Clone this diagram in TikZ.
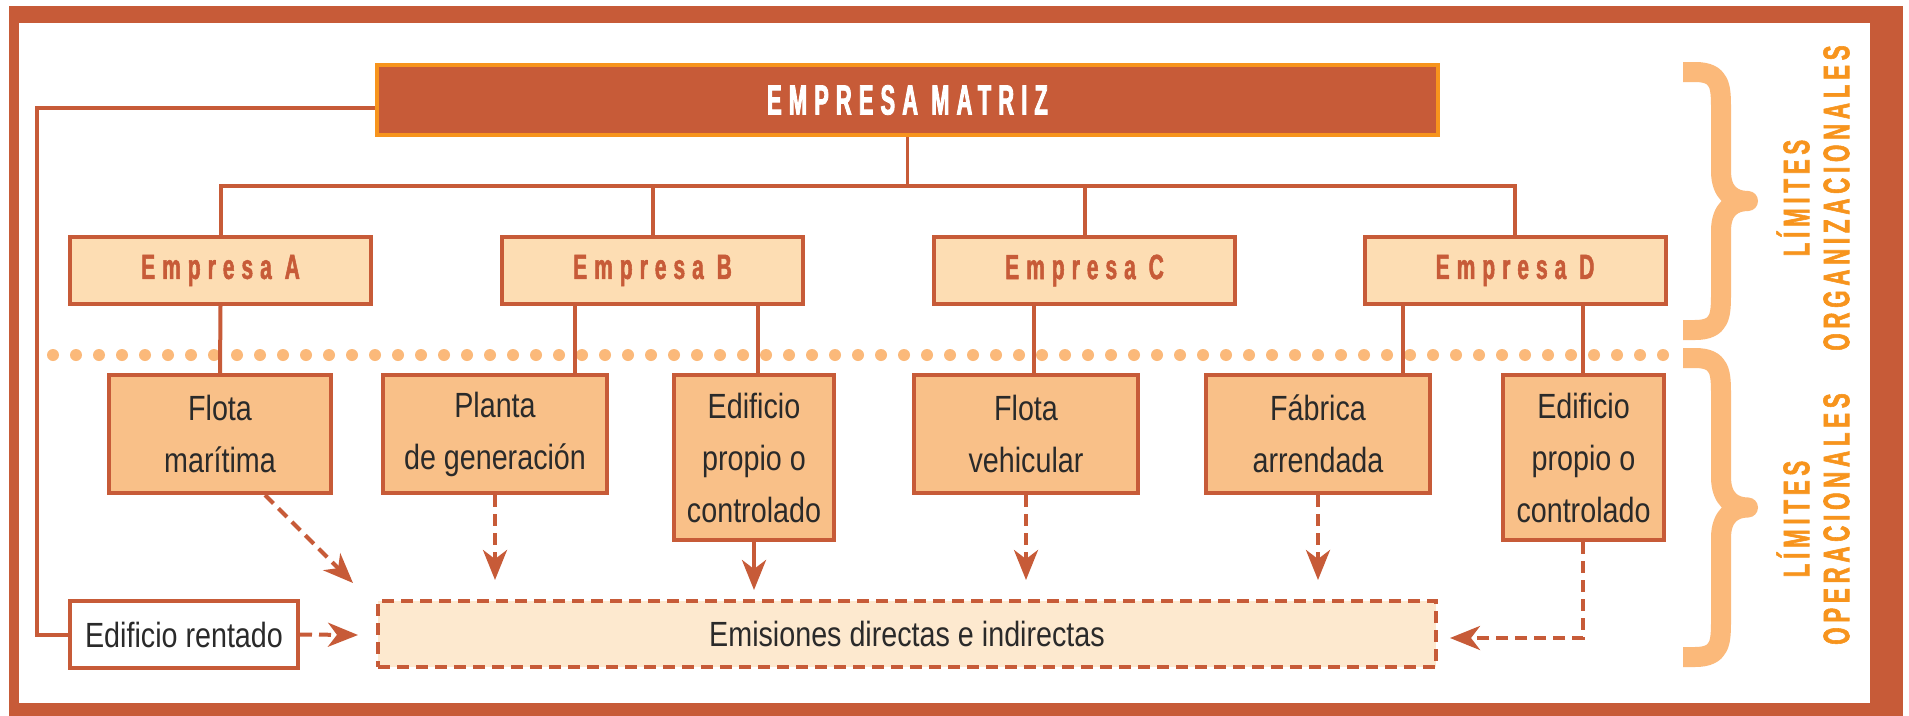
\documentclass[tikz,border=0pt]{standalone}
\usepackage{fontspec}
\setmainfont{Liberation Sans}[FakeStretch=0.82]
\newfontfamily\capsfont{Liberation Sans}[UprightFont=* Bold, FakeStretch=0.6, LetterSpace=20, FakeBold=1.5]
\newfontfamily\matrizfont{Liberation Sans}[UprightFont=* Bold, FakeStretch=0.52, LetterSpace=17, FakeBold=2]
\newfontfamily\sidefont{Liberation Sans}[UprightFont=* Bold, FakeStretch=0.6, LetterSpace=13, FakeBold=1.5]
\usetikzlibrary{arrows.meta}
\definecolor{rust}{HTML}{C75B38}
\definecolor{orangeb}{HTML}{F7941D}
\definecolor{peach}{HTML}{FDDDB3}
\definecolor{opfill}{HTML}{F9C088}
\definecolor{emfill}{HTML}{FDE9CF}
\definecolor{bracec}{HTML}{FBB97A}
\definecolor{sidec}{HTML}{F7941D}
\definecolor{darktext}{HTML}{2A2A2A}
\tikzset{
  matriz/.style={draw=orangeb, fill=rust, line width=4pt, minimum width=1061pt, minimum height=70pt, inner sep=0pt, text=white, font=\matrizfont\fontsize{42}{44}\selectfont},
  company/.style={draw=rust, fill=peach, line width=4pt, minimum width=301pt, minimum height=67pt, inner sep=0pt, text=rust, font=\capsfont\fontsize{35}{40}\selectfont},
  opbox/.style={draw=rust, fill=opfill, line width=4pt, inner sep=0pt, align=center, text=darktext, font=\fontsize{35}{52}\selectfont, minimum height=118pt},
  emis/.style={draw=rust, fill=emfill, line width=4pt, dash pattern=on 12pt off 7pt, inner sep=0pt, text=darktext, font=\fontsize{35}{42}\selectfont, minimum width=1058pt, minimum height=66pt},
  rented/.style={draw=rust, fill=white, line width=4pt, inner sep=0pt, text=darktext, font=\fontsize{35}{42}\selectfont, minimum width=228pt, minimum height=67pt},
  conn/.style={draw=rust, line width=4pt},
  thinconn/.style={draw=rust, line width=2.5pt},
  arr/.style={draw=rust, line width=4pt, -{Stealth[length=30pt,width=24pt,inset=9pt]}},
  dasharr/.style={arr, dash pattern=on 12pt off 7pt},
  dotline/.style={draw=bracec, line width=12pt, line cap=round, dash pattern=on 0pt off 23pt},
  bracestyle/.style={draw=bracec, line width=20pt, line join=round},
  sidetext/.style={align=center, text=sidec, inner sep=0pt, font=\sidefont\fontsize{37}{40}\selectfont}
}
\begin{document}
\begin{tikzpicture}[x=1pt,y=-1pt]
\useasboundingbox (0,0) rectangle (1909,715);
% frame
\fill[rust] (9,6) rectangle (1903,716);
\fill[white] (19,23) rectangle (1870,703);

% dotted boundary
\draw[dotline] (53,355) -- (1667,355);

% braces
\draw[bracestyle] (1683,72) -- (1695,72) .. controls (1721,72) and (1721,87) .. (1721,110) -- (1721,171) .. controls (1721,193) and (1733,201) .. (1748,201) .. controls (1733,201) and (1721,209) .. (1721,231) -- (1721,292) .. controls (1721,315) and (1721,330) .. (1695,330) -- (1683,330);
\draw[bracestyle] (1683,358) -- (1695,358) .. controls (1721,358) and (1721,373) .. (1721,396) -- (1721,477) .. controls (1721,499) and (1733,507.5) .. (1748,507.5) .. controls (1733,507.5) and (1721,516) .. (1721,538) -- (1721,619) .. controls (1721,642) and (1721,657) .. (1695,657) -- (1683,657);

% side texts
\node[sidetext, rotate=90] (T1) at (1813,198) {LÍMITES\\ORGANIZACIONALES};
\node[sidetext, rotate=90] (T2) at (1813,519) {LÍMITES\\OPERACIONALES};

% nodes
\node[matriz] (M) at (907.5,100) {EMPRESA MATRIZ};
\node[company] (A) at (220.5,270.5) {Empresa A};
\node[company] (B) at (652.5,270.5) {Empresa B};
\node[company] (C) at (1084.5,270.5) {Empresa C};
\node[company] (D) at (1515,270.5) {Empresa D};

\node[opbox, minimum width=222pt] (FM) at (220,434) {Flota\\marítima};
\node[opbox, minimum width=224pt] (PG) at (495,434) {Planta\\de generación};
\node[opbox, minimum width=160pt, minimum height=165pt] (E1) at (754,457.5) {Edificio\\propio o\\controlado};
\node[opbox, minimum width=224pt] (FV) at (1026,434) {Flota\\vehicular};
\node[opbox, minimum width=224pt] (FA) at (1318,434) {Fábrica\\arrendada};
\node[opbox, minimum width=161pt, minimum height=165pt] (E2) at (1583.5,457.5) {Edificio\\propio o\\controlado};

\node[emis] (EM) at (907,634) {Emisiones directas e indirectas};
\node[rented] (ER) at (184,634.5) {Edificio rentado};

% coordinates
\coordinate (bus) at (220,186);
\coordinate (lc) at (37,108);
\coordinate (xB1) at (575,0);
\coordinate (xB2) at (758,0);
\coordinate (xC) at (1034,0);
\coordinate (xD1) at (1403,0);
\coordinate (xD2) at (1583,0);
\coordinate (fmS) at (265,0);
\coordinate (fmT) at (353,583);
\coordinate (tipY) at (0,580);
\coordinate (tipS) at (0,590);
\coordinate (e2tip) at (1450,638);
\coordinate (erTip) at (358,635);

% tree connectors
\draw[thinconn] (M.south) -- (M.south |- bus);
\draw[conn] (A.north) |- (D.north |- bus) -- (D.north);
\draw[conn] (B.north) -- (B.north |- bus);
\draw[conn] (C.north) -- (C.north |- bus);
\draw[conn] (M.west |- lc) -- (lc) |- (ER.west);

\draw[conn] (A.south) -- (FM.north);
\draw[conn] (B.south -| xB1) -- (PG.north -| xB1);
\draw[conn] (B.south -| xB2) -- (E1.north -| xB2);
\draw[conn] (C.south -| xC) -- (FV.north -| xC);
\draw[conn] (D.south -| xD1) -- (FA.north -| xD1);
\draw[conn] (D.south -| xD2) -- (E2.north -| xD2);

% emission arrows
\draw[dasharr] (FM.south -| fmS) -- (fmT);
\draw[dasharr] (PG.south) -- (PG.south |- tipY);
\draw[arr] (E1.south) -- (E1.south |- tipS);
\draw[dasharr] (FV.south) -- (FV.south |- tipY);
\draw[dasharr] (FA.south) -- (FA.south |- tipY);
\draw[dasharr] (E2.south -| xD2) |- (e2tip);
\draw[dasharr] (ER.east) -- (erTip);
\end{tikzpicture}
\end{document}
